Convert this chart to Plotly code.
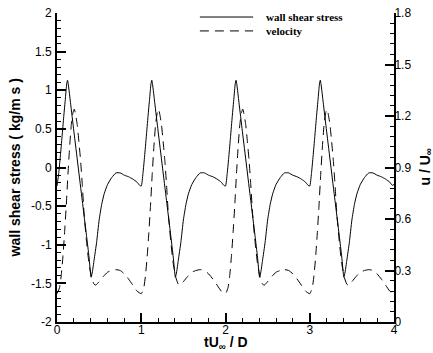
import plotly.graph_objects as go

# ---- data ----
shear_t = [
    0.00, 0.02, 0.04, 0.06, 0.08, 0.10, 0.115, 0.125, 0.135, 0.16, 0.20, 0.25, 0.30, 0.35, 0.38, 0.405,
    0.42, 0.44, 0.47, 0.50, 0.53, 0.56, 0.60, 0.65, 0.70, 0.75, 0.80, 0.85, 0.90, 0.95, 0.98,
    1.00, 1.02, 1.04, 1.06, 1.08, 1.10, 1.115, 1.125, 1.135, 1.16, 1.20, 1.25, 1.30, 1.35, 1.38, 1.405,
    1.42, 1.44, 1.47, 1.50, 1.53, 1.56, 1.60, 1.65, 1.70, 1.75, 1.80, 1.85, 1.90, 1.95, 1.98,
    2.00, 2.02, 2.04, 2.06, 2.08, 2.10, 2.115, 2.125, 2.135, 2.16, 2.20, 2.25, 2.30, 2.35, 2.38, 2.405,
    2.42, 2.44, 2.47, 2.50, 2.53, 2.56, 2.60, 2.65, 2.70, 2.75, 2.80, 2.85, 2.90, 2.95, 2.98,
    3.00, 3.02, 3.04, 3.06, 3.08, 3.10, 3.115, 3.125, 3.135, 3.16, 3.20, 3.25, 3.30, 3.35, 3.38, 3.405,
    3.42, 3.44, 3.47, 3.50, 3.53, 3.56, 3.60, 3.65, 3.70, 3.75, 3.80, 3.85, 3.90, 3.95, 3.98,
    4.00,
]
shear_stress = [
    -0.24, -0.08, 0.15, 0.40, 0.66, 0.90, 1.08, 1.13, 1.07, 0.84, 0.47, 0.02, -0.43, -0.88, -1.16, -1.42,
    -1.35, -1.20, -0.97, -0.68, -0.48, -0.34, -0.22, -0.13, -0.07, -0.07, -0.10, -0.12, -0.15, -0.19, -0.23,
    -0.24, -0.08, 0.15, 0.40, 0.66, 0.90, 1.08, 1.13, 1.07, 0.84, 0.47, 0.02, -0.43, -0.88, -1.16, -1.42,
    -1.35, -1.20, -0.97, -0.68, -0.48, -0.34, -0.22, -0.13, -0.07, -0.07, -0.10, -0.12, -0.15, -0.19, -0.23,
    -0.24, -0.08, 0.15, 0.40, 0.66, 0.90, 1.08, 1.13, 1.07, 0.84, 0.47, 0.02, -0.43, -0.88, -1.16, -1.42,
    -1.35, -1.20, -0.97, -0.68, -0.48, -0.34, -0.22, -0.13, -0.07, -0.07, -0.10, -0.12, -0.15, -0.19, -0.23,
    -0.24, -0.08, 0.15, 0.40, 0.66, 0.90, 1.08, 1.13, 1.07, 0.84, 0.47, 0.02, -0.43, -0.88, -1.16, -1.42,
    -1.35, -1.20, -0.97, -0.68, -0.48, -0.34, -0.22, -0.13, -0.07, -0.07, -0.10, -0.12, -0.15, -0.19, -0.23,
    -0.22,
]

vel_t = [
    0.00, 0.03, 0.05, 0.07, 0.09, 0.11, 0.13, 0.15, 0.17, 0.19, 0.205, 0.22, 0.24, 0.26, 0.28, 0.30,
    0.32, 0.35, 0.38, 0.41, 0.44, 0.46, 0.50, 0.55, 0.60, 0.65, 0.70, 0.75, 0.80, 0.85, 0.90, 0.95,
    1.00, 1.03, 1.05, 1.07, 1.09, 1.11, 1.13, 1.15, 1.17, 1.19, 1.205, 1.22, 1.24, 1.26, 1.28, 1.30,
    1.32, 1.35, 1.38, 1.41, 1.44, 1.46, 1.50, 1.55, 1.60, 1.65, 1.70, 1.75, 1.80, 1.85, 1.90, 1.95,
    2.00, 2.03, 2.05, 2.07, 2.09, 2.11, 2.13, 2.15, 2.17, 2.19, 2.205, 2.22, 2.24, 2.26, 2.28, 2.30,
    2.32, 2.35, 2.38, 2.41, 2.44, 2.46, 2.50, 2.55, 2.60, 2.65, 2.70, 2.75, 2.80, 2.85, 2.90, 2.95,
    3.00, 3.03, 3.05, 3.07, 3.09, 3.11, 3.13, 3.15, 3.17, 3.19, 3.205, 3.22, 3.24, 3.26, 3.28, 3.30,
    3.32, 3.35, 3.38, 3.41, 3.44, 3.46, 3.50, 3.55, 3.60, 3.65, 3.70, 3.75, 3.80, 3.85, 3.90, 3.95,
    4.00,
]
velocity = [
    0.165, 0.20, 0.27, 0.38, 0.52, 0.68, 0.86, 1.02, 1.15, 1.22, 1.24, 1.21, 1.15, 1.05, 0.94, 0.80,
    0.64, 0.47, 0.34, 0.26, 0.22, 0.215, 0.235, 0.265, 0.29, 0.30, 0.305, 0.30, 0.28, 0.25, 0.215, 0.18,
    0.165, 0.20, 0.27, 0.38, 0.52, 0.68, 0.86, 1.02, 1.15, 1.22, 1.24, 1.21, 1.15, 1.05, 0.94, 0.80,
    0.64, 0.47, 0.34, 0.26, 0.22, 0.215, 0.235, 0.265, 0.29, 0.30, 0.305, 0.30, 0.28, 0.25, 0.215, 0.18,
    0.165, 0.20, 0.27, 0.38, 0.52, 0.68, 0.86, 1.02, 1.15, 1.22, 1.24, 1.21, 1.15, 1.05, 0.94, 0.80,
    0.64, 0.47, 0.34, 0.26, 0.22, 0.215, 0.235, 0.265, 0.29, 0.30, 0.305, 0.30, 0.28, 0.25, 0.215, 0.18,
    0.165, 0.20, 0.27, 0.38, 0.52, 0.68, 0.86, 1.02, 1.15, 1.22, 1.24, 1.21, 1.15, 1.05, 0.94, 0.80,
    0.64, 0.47, 0.34, 0.26, 0.22, 0.215, 0.235, 0.265, 0.29, 0.30, 0.305, 0.30, 0.28, 0.25, 0.215, 0.18,
    0.165,
]

x_ticks = [0, 1, 2, 3, 4]
x_ticklabels = ["0", "1", "2", "3", "4"]
y_ticks = [-2, -1.5, -1, -0.5, 0, 0.5, 1, 1.5, 2]
y_ticklabels = ["-2", "-1.5", "-1", "-0.5", "0", "0.5", "1", "1.5", "2"]
y2_ticks = [0, 0.3, 0.6, 0.9, 1.2, 1.5, 1.8]
y2_ticklabels = ["0", "0.3", "0.6", "0.9", "1.2", "1.5", "1.8"]

legend_names = ["wall shear stress", "velocity"]
x_title = "<b>tU<sub>∞</sub> / D</b>"
y_title = "<b>wall shear stress ( kg/m s )</b>"
y2_title = "<b>u / U<sub>∞</sub></b>"

# ---- figure ----
AX_FONT = dict(family="Arial, 'Liberation Sans', sans-serif", size=12, color="black")
TITLE_FONT = dict(family="Arial, 'Liberation Sans', sans-serif", size=14, color="black")
LEG_FONT = dict(family="'Times New Roman', 'Liberation Serif', serif", size=11, color="black")

fig = go.Figure()
fig.add_trace(go.Scatter(x=shear_t, y=shear_stress, mode="lines", name=legend_names[0],
                         line=dict(color="black", width=1, shape="spline", smoothing=0.5),
                         showlegend=False))
fig.add_trace(go.Scatter(x=vel_t, y=velocity, mode="lines", name=legend_names[1], yaxis="y2",
                         line=dict(color="black", width=1, dash="9px,6px", shape="spline", smoothing=0.5),
                         showlegend=False))

fig.update_layout(
    width=433, height=353,
    margin=dict(l=57, r=39, t=13, b=31, pad=0),
    paper_bgcolor="white", plot_bgcolor="white",
    xaxis=dict(range=[0, 4], tickvals=x_ticks, ticktext=x_ticklabels, ticks="inside", ticklen=9,
               tickwidth=2, tickcolor="black", showline=True, linecolor="black", linewidth=2,
               showgrid=False, zeroline=False, tickfont=AX_FONT, automargin=False,
               ticklabelstandoff=-4, ticklabeloverflow="allow",
               minor=dict(tick0=0, dtick=0.2, ticks="inside", ticklen=4, tickcolor="black", tickwidth=1)),
    yaxis=dict(range=[-2, 2], tickvals=y_ticks, ticktext=y_ticklabels, ticks="inside", ticklen=9,
               tickwidth=2, tickcolor="black", showline=True, linecolor="black", linewidth=2,
               showgrid=False, zeroline=False, tickfont=AX_FONT, ticklabelstandoff=1, automargin=False,
               ticklabeloverflow="allow",
               minor=dict(tick0=0, dtick=0.1, ticks="inside", ticklen=4, tickcolor="black", tickwidth=1)),
    yaxis2=dict(range=[0, 1.8], tickvals=y2_ticks, ticktext=y2_ticklabels, overlaying="y", side="right",
                ticks="inside", ticklen=9, tickwidth=2, tickcolor="black", showline=True,
                linecolor="black", linewidth=2, showgrid=False, zeroline=False, tickfont=AX_FONT,
                ticklabelstandoff=-4, automargin=False, ticklabeloverflow="allow",
                minor=dict(tick0=0, dtick=0.06, ticks="inside", ticklen=4, tickcolor="black", tickwidth=1)),
    showlegend=False,
)

# axis titles as annotations (precise placement)
fig.add_annotation(xref="paper", yref="paper", x=-0.125, y=0.5, text=y_title, textangle=-90,
                   showarrow=False, xanchor="center", yanchor="middle", font=TITLE_FONT)
fig.add_annotation(xref="paper", yref="paper", x=1.092, y=0.5, text=y2_title, textangle=-90,
                   showarrow=False, xanchor="center", yanchor="middle", font=TITLE_FONT)
fig.add_annotation(xref="paper", yref="paper", x=0.5, y=-0.068, text=x_title,
                   showarrow=False, xanchor="center", yanchor="middle", font=TITLE_FONT)

# legend drawn as sample lines + labels (paper coordinates)
leg_x0, leg_x1, leg_tx = 0.424, 0.582, 0.614
leg_y = [0.987, 0.942]
leg_dash = ["solid", "9px,6px"]
for name, yy, dsh in zip(legend_names, leg_y, leg_dash):
    fig.add_shape(type="line", xref="paper", yref="paper", x0=leg_x0, x1=leg_x1, y0=yy, y1=yy,
                  line=dict(color="black", width=1, dash=dsh))
    fig.add_annotation(xref="paper", yref="paper", x=leg_tx, y=yy, text="<b>" + name + "</b>",
                       showarrow=False, xanchor="left", yanchor="middle", font=LEG_FONT)

# remove the browser's default 8px body margin so the figure fills the window exactly
fig.write_html("out.html", config={"displayModeBar": False},
               post_script="document.body.style.margin='0px';")
